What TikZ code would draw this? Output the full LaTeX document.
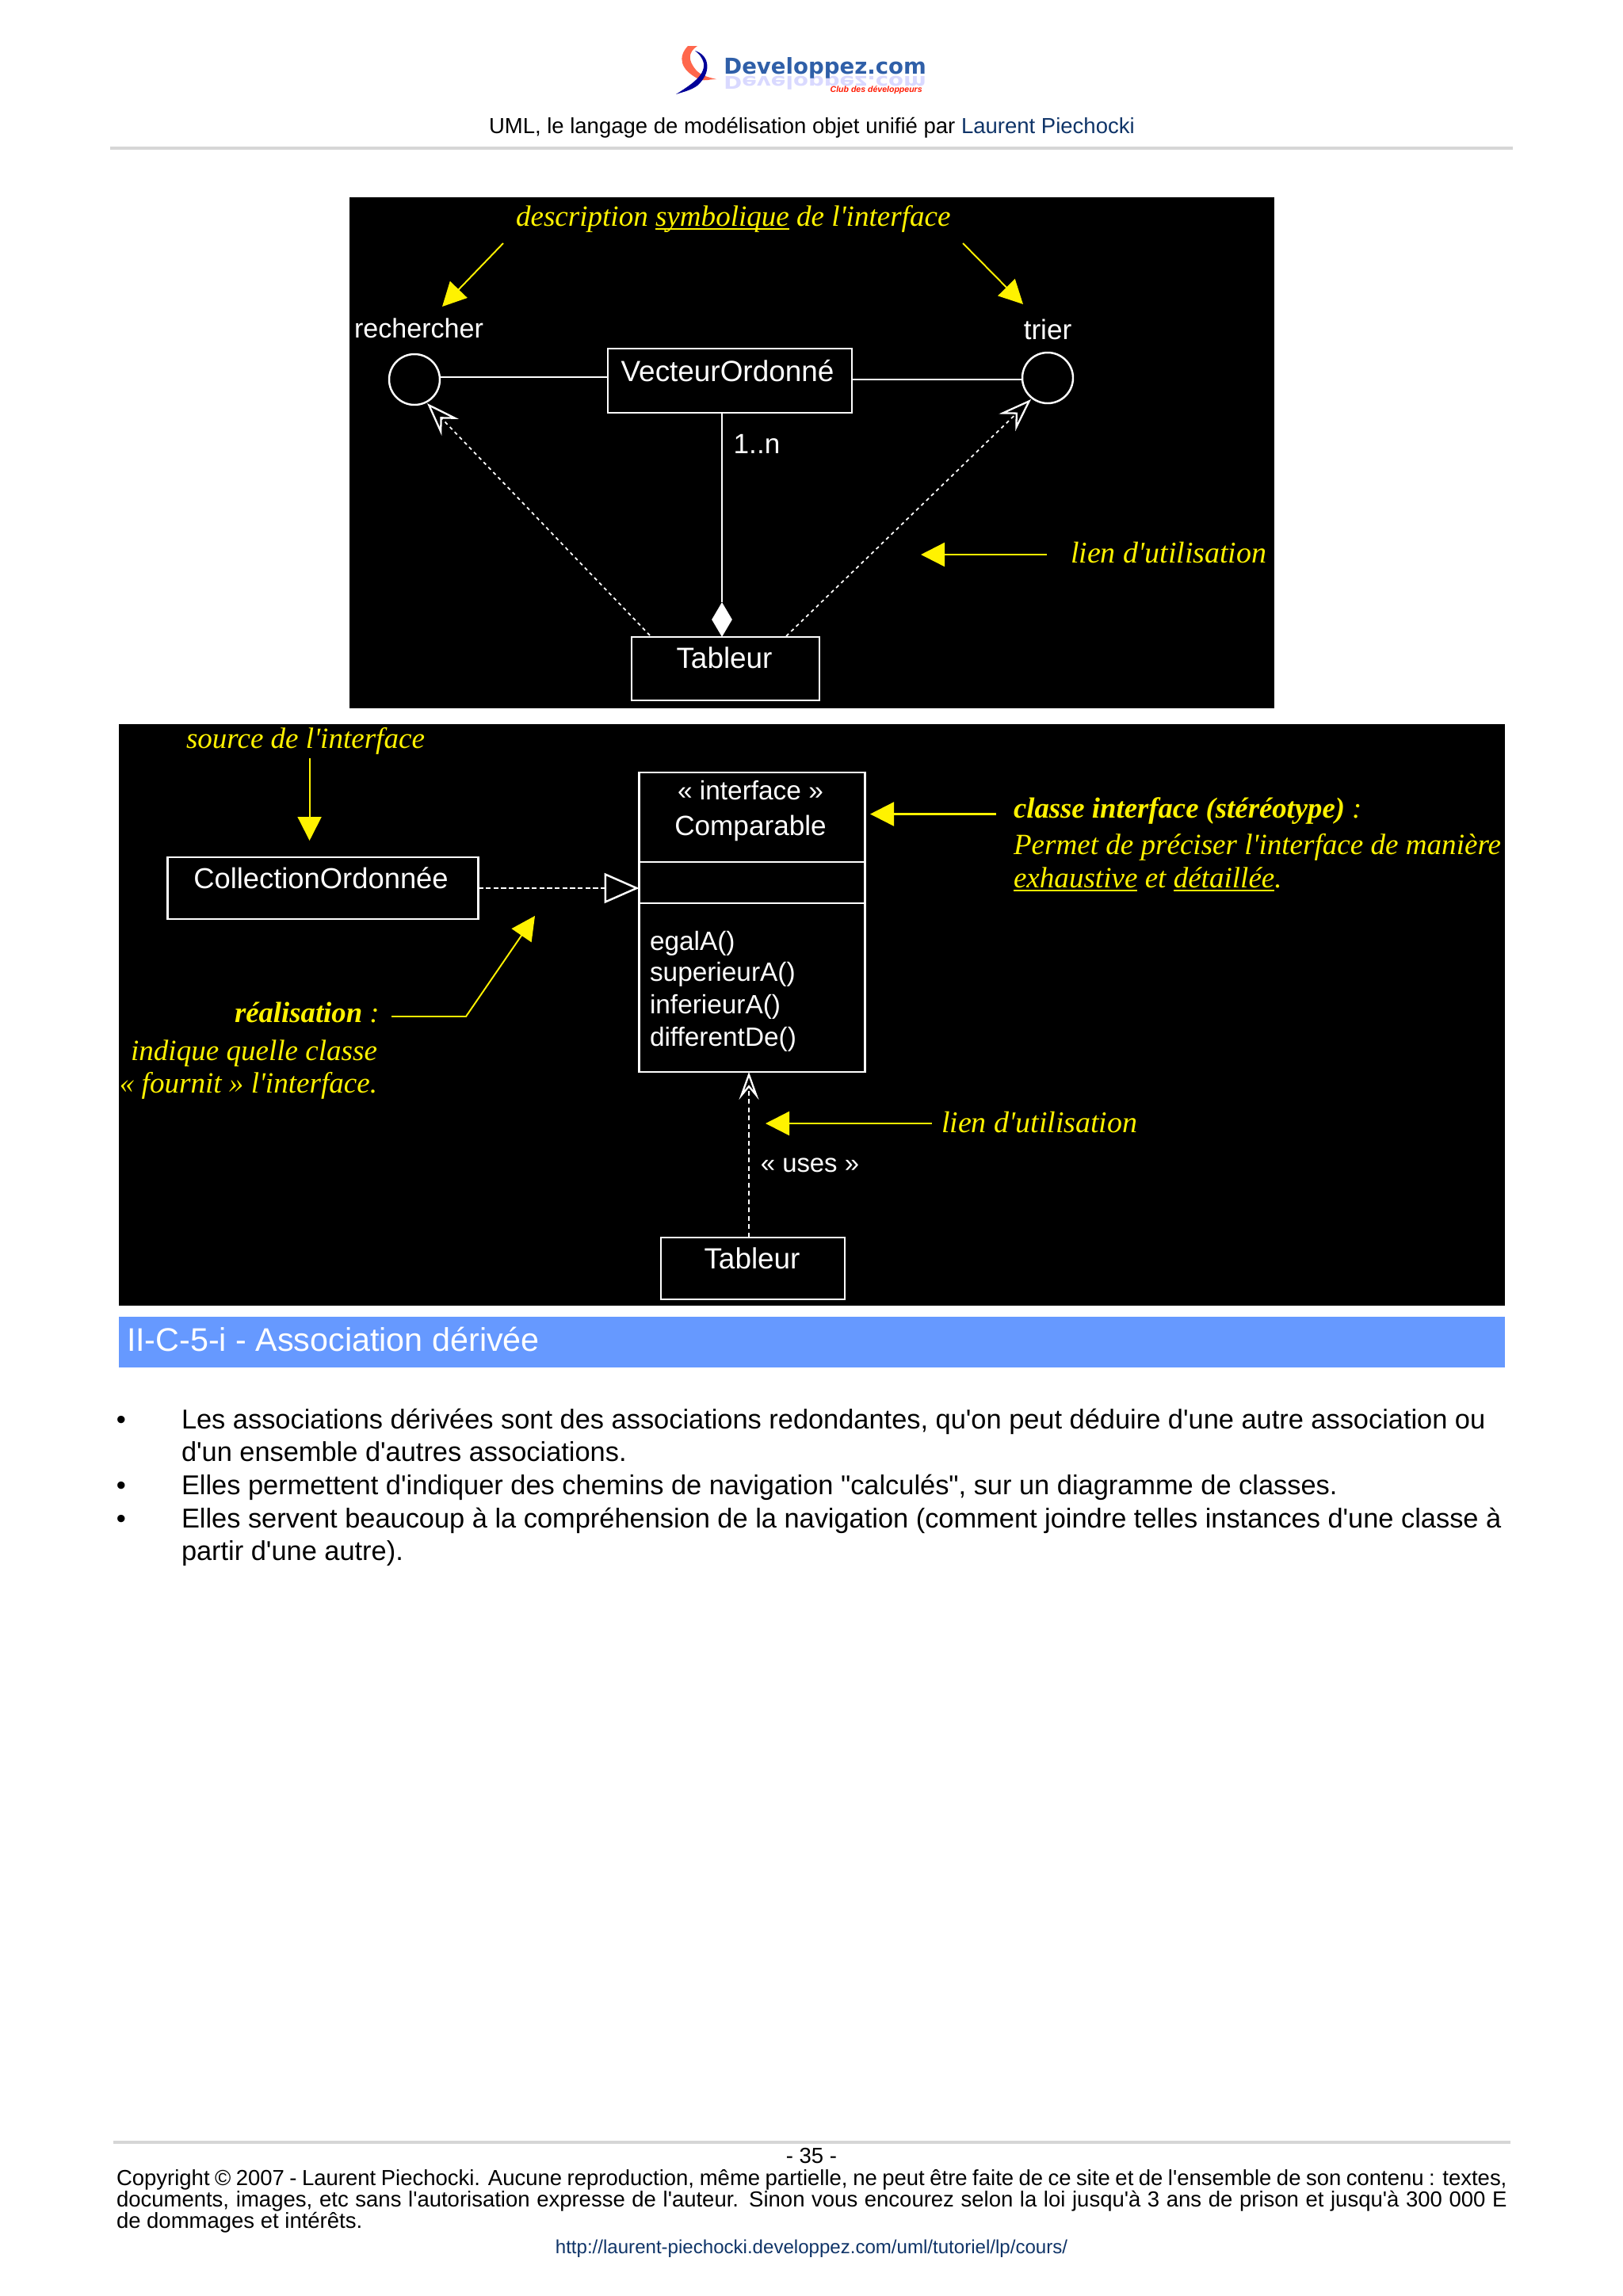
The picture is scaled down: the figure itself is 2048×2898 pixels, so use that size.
\documentclass[tikz,border=0pt]{standalone}
\usepackage{fontspec}
\setmainfont[Ligatures=TeXOff]{Liberation Sans}
\newfontfamily\umlfont[Ligatures=TeXOff]{Liberation Serif}
\newfontfamily\logofont{DejaVu Sans}
\usetikzlibrary{arrows.meta,shapes.geometric}
\definecolor{lienbleu}{HTML}{0F3468}
\definecolor{bandeau}{HTML}{6699FF}
\definecolor{filet}{HTML}{D6D6D6}
\definecolor{logobleu}{HTML}{2F5FA8}
\newcommand\souligne[1]{\setbox0\hbox{#1}\rlap{\rule[-.14em]{\wd0}{.07em}}\box0\relax}
\tikzset{
	pagetext/.style={inner sep=0pt, outer sep=0pt, anchor=base west, font=\fontsize{19.57}{24}\selectfont},
	foottext/.style={inner sep=0pt, outer sep=0pt, anchor=base west, font=\fontsize{15.65}{20}\selectfont},
	whitetext/.style={inner sep=0pt, outer sep=0pt, anchor=base, white, font=\fontsize{20}{24}\selectfont},
	whitelarge/.style={whitetext, font=\fontsize{21}{24}\selectfont},
	whitesmall/.style={whitetext, font=\fontsize{19}{24}\selectfont},
	yellowtext/.style={inner sep=0pt, outer sep=0pt, anchor=base west, yellow, font=\umlfont\itshape\fontsize{21.1}{24}\selectfont},
	yellowbold/.style={yellowtext, font=\umlfont\itshape\bfseries\fontsize{20.9}{24}\selectfont},
	umlbox/.style={draw=white, line width=1.4pt, inner sep=0pt, outer sep=0pt},
	yarrow/.style={yellow, line width=1.1pt, -{Stealth[inset=0pt,length=.6cm,width=.6cm]}},
	usedot/.style={white, line width=1pt, dash pattern=on 2.5pt off 2.5pt, -{Stealth[open,length=.84cm,width=.6cm,inset=.3cm,line width=1.3pt]}},
}
\begin{document}
\begin{tikzpicture}[x=.02cm, y=-.02cm]
	\useasboundingbox (0,0) rectangle (2048,2898);
	\fill[white] (0,0) rectangle (2048,2898);

	\fill[red!70!orange!70] (868,58) .. controls (855,72) and (858,88) .. (882,100) .. controls (892,103) and (892,100) .. (904,100) .. controls (892,97) and (884,95) .. (878,88) .. controls (868,76) and (868,66) .. (880,58) -- cycle;
	\fill[blue!60!black] (877,64) .. controls (896,70) and (898,92) .. (880,108) .. controls (872,114) and (862,116) .. (853,119) .. controls (870,108) and (890,96) .. (888,80) .. controls (886,72) and (882,68) .. (877,64) -- cycle;
	\node[inner sep=0pt, anchor=base west, yscale=-.8, transform shape, text=blue!15, font=\logofont\bfseries\fontsize{15.7}{16}\selectfont] (LogoOmbre) at (913,96){Developpez.com};
	\node[inner sep=0pt, anchor=base west, text=logobleu, font=\logofont\bfseries\fontsize{15.7}{16}\selectfont] (Logo) at (913,93){Developpez.com};
	\node[inner sep=0pt, anchor=base east, text=red!80!orange, font=\bfseries\itshape\fontsize{6}{7}\selectfont] (Club) at (1164,116){Club des développeurs};
	\node[foottext] (Titre) at (617,168){UML, le langage de modélisation objet unifié par \textcolor{lienbleu}{Laurent Piechocki}};
	\draw[filet, line width=2pt] (139,187) -- (1909,187);

	\fill[black] (441,249) rectangle (1608,894);
	\node[yellowtext] (Desc) at (651,285){description \souligne{symbolique} de l'interface};
	\coordinate (DescG) at (635,307);
	\coordinate (DescD) at (1215,307);
	\coordinate (FlecheG) at (558,387);
	\coordinate (FlecheD) at (1291,384);
	\draw[yarrow] (DescG) -- (FlecheG);
	\draw[yarrow] (DescD) -- (FlecheD);
	\node[whitetext, anchor=base west, font=\fontsize{19.4}{24}\selectfont] (Rech) at (447,426){rechercher};
	\node[whitetext] (Tri) at (1322,428){trier};
	\node[circle, umlbox, minimum size=1.28cm] (CercleR) at (523,479){};
	\node[circle, umlbox, minimum size=1.28cm] (CercleT) at (1322,477){};
	\node[umlbox, minimum width=6.16cm, minimum height=1.62cm] (Vecteur) at (921,480.5){};
	\node[whitelarge] (VecteurT) at (918,481){VecteurOrdonné};
	\node[umlbox, minimum width=4.74cm, minimum height=1.6cm] (Tableur) at (915.5,844){};
	\node[whitelarge] (TableurT) at (914,843){Tableur};
	\node[diamond, fill=white, inner sep=0pt, minimum width=.52cm, minimum height=.88cm] (Losange) at (911,782){};
	\node[whitetext] (Mult) at (955,572){1..n};
	\draw[white, line width=1.4pt] (CercleR.east |- 0,476) -- (Vecteur.west |- 0,476);
	\draw[white, line width=1.4pt] (Vecteur.east |- 0,479) -- (CercleT.west |- 0,479);
	\draw[white, line width=1pt] (Vecteur.south -| Losange.north) -- (Losange.north);
	\coordinate (TabG) at (820,802);
	\coordinate (TabD) at (992,803);
	\coordinate (PointeR) at (539,509);
	\coordinate (PointeT) at (1301,504);
	\draw[usedot] (TabG) -- (PointeR);
	\draw[usedot] (TabD) -- (PointeT);
	\coordinate (LienA) at (1321,700);
	\coordinate (LienB) at (1162,700);
	\draw[yarrow, line width=1.4pt] (LienA) -- (LienB);
	\node[yellowtext, font=\umlfont\itshape\fontsize{21.6}{24}\selectfont] (Lien) at (1351,710){lien d'utilisation};

	\fill[black] (150,914) rectangle (1899,1648);
	\node[yellowtext] (Source) at (235,944){source de l'interface};
	\coordinate (SourceA) at (390.6,957);
	\coordinate (SourceB) at (390.6,1061);
	\draw[yarrow] (SourceA) -- (SourceB);
	\node[umlbox, minimum width=7.84cm, minimum height=1.56cm] (Collection) at (407.5,1121){};
	\node[whitetext, font=\fontsize{20.7}{24}\selectfont] (CollectionT) at (405,1121){CollectionOrdonnée};
	\node[umlbox, minimum width=5.7cm, minimum height=7.56cm] (Compar) at (949,1164){};
	\draw[umlbox] (Compar.west |- 0,1088) -- (Compar.east |- 0,1088);
	\draw[umlbox] (Compar.west |- 0,1140) -- (Compar.east |- 0,1140);
	\node[whitesmall] (Inter) at (947,1009){« interface »};
	\node[whitetext] (ComparT) at (947,1054){Comparable};
	\node[whitesmall, anchor=base west] (Egal) at (820,1199){egalA()};
	\node[whitesmall, anchor=base west] (Sup) at (820,1238){superieurA()};
	\node[whitesmall, anchor=base west] (Inf) at (820,1279){inferieurA()};
	\node[whitesmall, anchor=base west] (Diff) at (820,1320){differentDe()};
	\draw[white, line width=1.4pt, dash pattern=on 3.5pt off 2pt, -{Triangle[open,length=.88cm,width=.76cm]}] (Collection.east |- 0,1121) -- (Compar.west |- 0,1121);
	\node[umlbox, minimum width=4.64cm, minimum height=1.56cm] (Tableur2) at (950,1601){};
	\node[whitelarge] (Tableur2T) at (949,1601){Tableur};
	\draw[usedot, line width=1.2pt, dash pattern=on 3.5pt off 2.5pt, -{Stealth[open,length=.7cm,width=.5cm,inset=.3cm,line width=1.3pt]}] (Tableur2.north -| 945,0) -- (Compar.south -| 945,0);
	\node[whitetext, font=\fontsize{18.7}{24}\selectfont] (Uses) at (1022,1479){« uses »};
	\node[yellowbold] (Real) at (296,1290){réalisation \textmd{:}};
	\coordinate (RealA) at (494,1283);
	\coordinate (RealB) at (588,1283);
	\coordinate (RealC) at (675,1156);
	\draw[yarrow] (RealA) -- (RealB) -- (RealC);
	\node[yellowtext, anchor=base east] (Indique) at (476,1338){indique quelle classe};
	\node[yellowtext, anchor=base east] (Fournit) at (476,1379){« fournit » l'interface.};
	\coordinate (ClasseA) at (1257,1027.5);
	\coordinate (ClasseB) at (1098,1027.5);
	\draw[yarrow, line width=1.4pt] (ClasseA) -- (ClasseB);
	\node[yellowbold] (Classe) at (1279,1032){classe interface (stéréotype) \textmd{:}};
	\node[yellowtext] (Permet) at (1279,1078){Permet de préciser l'interface de manière};
	\node[yellowtext] (Exh) at (1279,1120){\souligne{exhaustive} et \souligne{détaillée}.};
	\coordinate (UtilA) at (1176,1418);
	\coordinate (UtilB) at (966,1418);
	\draw[yarrow, line width=1.4pt] (UtilA) -- (UtilB);
	\node[yellowtext, font=\umlfont\itshape\fontsize{21.6}{24}\selectfont] (Util) at (1188,1429){lien d'utilisation};

	\fill[bandeau] (150,1662) rectangle (1899,1726);
	\node[pagetext, text=white, font=\fontsize{23.5}{28}\selectfont] (Section) at (160,1705){II-C-5-i - Association dérivée};
	\node[pagetext, anchor=base] (PucesA) at (153,1803){•};
	\node[pagetext, anchor=base] (PucesB) at (153,1886){•};
	\node[pagetext, anchor=base] (PucesC) at (153,1928){•};
	\node[pagetext] (L1) at (229,1803){Les associations dérivées sont des associations redondantes, qu'on peut déduire d'une autre association ou};
	\node[pagetext] (L2) at (229,1844){d'un ensemble d'autres associations.};
	\node[pagetext] (L3) at (229,1886){Elles permettent d'indiquer des chemins de navigation "calculés", sur un diagramme de classes.};
	\node[pagetext] (L4) at (229,1928){Elles servent beaucoup à la compréhension de la navigation (comment joindre telles instances d'une classe à};
	\node[pagetext] (L5) at (229,1969){partir d'une autre).};

	\draw[filet, line width=2pt] (143,2704) -- (1906,2704);
	\node[foottext, anchor=base] (Num) at (1024,2730){- 35 -};
	\node[foottext] (C1) at (147,2758){\makebox[35.1cm][s]{Copyright © 2007 - Laurent Piechocki. Aucune reproduction, même partielle, ne peut être faite de ce site et de l'ensemble de son contenu : textes,}};
	\node[foottext] (C2) at (147,2785){\makebox[35.1cm][s]{documents, images, etc sans l'autorisation expresse de l'auteur. Sinon vous encourez selon la loi jusqu'à 3 ans de prison et jusqu'à 300 000 E}};
	\node[foottext] (C3) at (147,2812){de dommages et intérêts.};
	\node[foottext, anchor=base, text=lienbleu, font=\fontsize{13.7}{18}\selectfont] (Url) at (1024,2844){http://laurent-piechocki.developpez.com/uml/tutoriel/lp/cours/};
\end{tikzpicture}
\end{document}
